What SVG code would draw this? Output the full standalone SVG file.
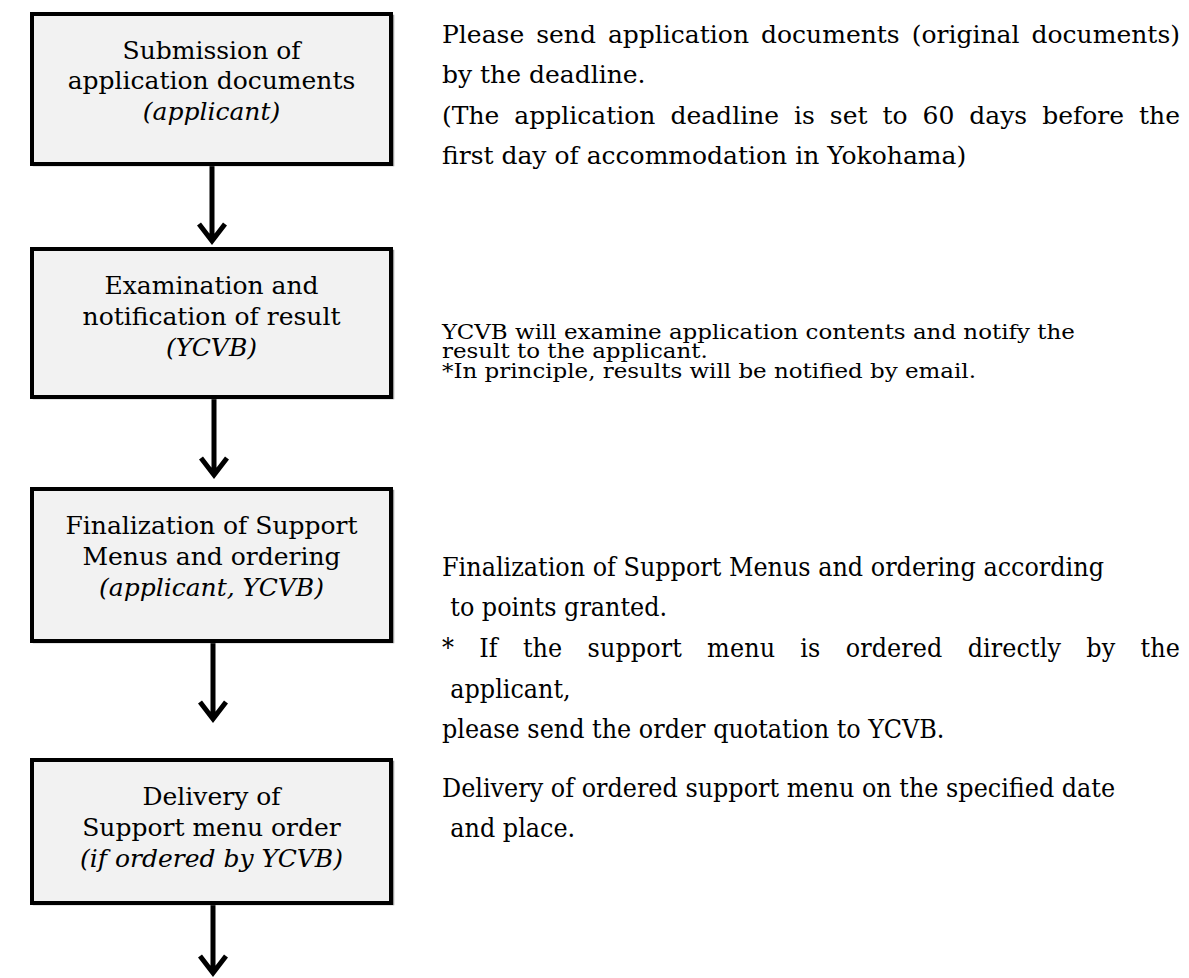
<svg xmlns="http://www.w3.org/2000/svg" width="1189" height="978" viewBox="0 0 1189 978">
<style>
.box{fill:#f2f2f2;stroke:#000;stroke-width:4}
.shadow{fill:none;stroke:#999;stroke-width:1.5}
.bt{font-family:"DejaVu Serif","Liberation Serif",serif;font-size:25px;fill:#000;text-anchor:middle}
.it{font-style:italic}
.rt{font-family:"DejaVu Serif","Liberation Serif",serif;font-size:25px;fill:#000}
.rs{font-family:"DejaVu Serif","Liberation Serif",serif;font-size:20.5px;fill:#000}
.rc{font-family:"DejaVu Serif","Liberation Serif",serif;font-size:26px;fill:#000}
.arr{fill:none;stroke:#000;stroke-width:5;stroke-linejoin:miter}
</style>
<rect width="1189" height="978" fill="#fff"/>
<g id="connectors">
<path class="arr" d="M212,166 V240 M199,224 L212,241 L225,224"/>
<path class="arr" d="M214,399 V474 M201,458 L214,475 L227,458"/>
<path class="arr" d="M213,643 V718 M200,702 L213,719 L226,702"/>
<path class="arr" d="M213,905 V972 M200,956 L213,973 L226,956"/>
</g>
<g id="node1">
<rect class="shadow" x="33.5" y="15.5" width="360" height="150"/>
<rect class="box" x="32" y="14" width="359" height="150"/>
<text class="bt" x="211.5" y="59">Submission of</text>
<text class="bt" x="211.5" y="89">application documents</text>
<text class="bt it" x="211.5" y="120">(applicant)</text>
</g>
<g id="node2">
<rect class="shadow" x="33.5" y="250.5" width="360" height="148"/>
<rect class="box" x="32" y="249" width="359" height="148"/>
<text class="bt" x="211.5" y="294">Examination and</text>
<text class="bt" x="211.5" y="325">notification of result</text>
<text class="bt it" x="211.5" y="356">(YCVB)</text>
</g>
<g id="node3">
<rect class="shadow" x="33.5" y="490.5" width="360" height="152"/>
<rect class="box" x="32" y="489" width="359" height="152"/>
<text class="bt" x="211.5" y="534">Finalization of Support</text>
<text class="bt" x="211.5" y="565">Menus and ordering</text>
<text class="bt it" x="211.5" y="596">(applicant, YCVB)</text>
</g>
<g id="node4">
<rect class="shadow" x="33.5" y="761.5" width="360" height="143"/>
<rect class="box" x="32" y="760" width="359" height="143"/>
<text class="bt" x="211.5" y="805">Delivery of</text>
<text class="bt" x="211.5" y="836">Support menu order</text>
<text class="bt it" x="211.5" y="867">(if ordered by YCVB)</text>
</g>
<g id="note1">
<text class="rt" x="442" y="43" word-spacing="4" textLength="738" lengthAdjust="spacing">Please send application documents (original documents)</text>
<text class="rt" x="442" y="83">by the deadline.</text>
<text class="rt" x="442" y="124" word-spacing="7" textLength="738" lengthAdjust="spacing">(The application deadline is set to 60 days before the</text>
<text class="rt" x="442" y="164">first day of accommodation in Yokohama)</text>
</g>
<g id="note2" transform="translate(442,0) scale(1.12,1)">
<text class="rs" x="0" y="339">YCVB will examine application contents and notify the</text>
<text class="rs" x="0" y="358">result to the applicant.</text>
<text class="rs" x="0" y="378">*In principle, results will be notified by email.</text>
</g>
<g id="note3" transform="translate(442,0) scale(0.92,1)">
<text class="rc" x="0" y="576">Finalization of Support Menus and ordering according</text>
<text class="rc" x="9" y="616">to points granted.</text>
<text class="rc" x="0" y="657" word-spacing="19" textLength="802" lengthAdjust="spacing">* If the support menu is ordered directly by the</text>
<text class="rc" x="9" y="698">applicant,</text>
<text class="rc" x="0" y="738">please send the order quotation to YCVB.</text>
</g>
<g id="note4" transform="translate(442,0) scale(0.92,1)">
<text class="rc" x="0" y="797">Delivery of ordered support menu on the specified date</text>
<text class="rc" x="9" y="837">and place.</text>
</g>
</svg>
